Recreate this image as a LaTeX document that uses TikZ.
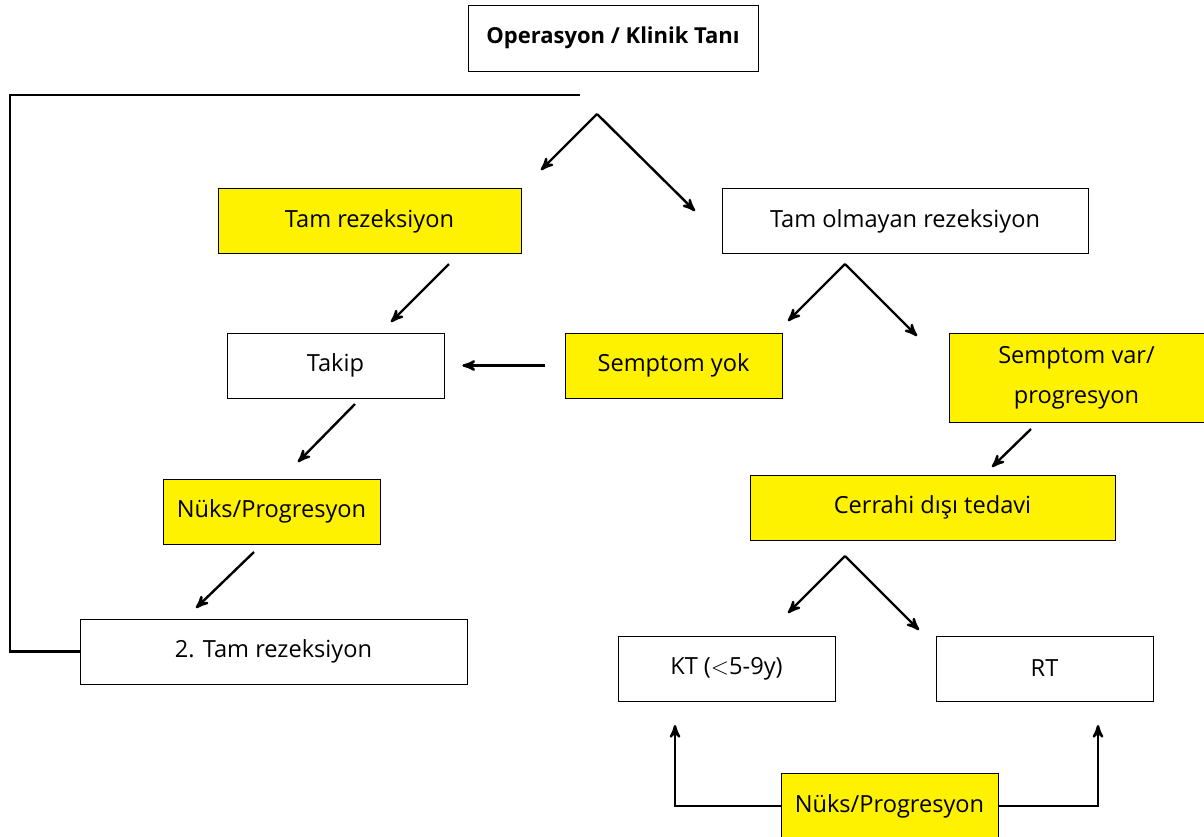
\documentclass[tikz,border=0pt]{standalone}
\usepackage{fontspec}
\setmainfont{Open Sans}
\usepackage{tikz}
\usetikzlibrary{positioning,arrows}
\tikzstyle{wbox}=[draw, rectangle, align=center, inner sep=0pt, minimum height=32.5pt, font=\fontsize{11.8}{20}\selectfont]
\tikzstyle{ybox}=[wbox, fill=yellow]
\tikzstyle{ln}=[line width=1.2pt]

\begin{document}
\begin{tikzpicture}[x=0.5pt, y=-0.5pt, >=stealth']
\useasboundingbox (0,0) rectangle (1204,836);
\node[wbox, minimum width=145pt, minimum height=33pt, font=\fontsize{11}{17}\selectfont\bfseries] (op) at (613,38) {Operasyon / Klinik Tanı};
\node[ybox, minimum width=151.5pt] (tam) at (369.5,221) {Tam rezeksiyon};
\node[wbox, minimum width=183pt] (olm) at (905,221) {Tam olmayan rezeksiyon};
\node[wbox, minimum width=108.5pt] (takip) at (335.5,365.5) {Takip};
\node[ybox, minimum width=108.5pt] (yok) at (673.5,365.5) {Semptom yok};
\node[ybox, minimum width=127.5pt, minimum height=44.5pt] (var) at (1076.5,377.5) {Semptom var/\\progresyon};
\node[ybox, minimum width=108.5pt] (nuks) at (271.5,511.5) {Nüks/Progresyon};
\node[ybox, minimum width=182.5pt] (cer) at (932.5,507.5) {Cerrahi dışı tedavi};
\node[wbox, minimum width=193.5pt] (tam2) at (273.5,651.5) {2. Tam rezeksiyon};
\node[wbox, minimum width=108.5pt] (kt) at (726.5,668.5) {KT ($<$5-9y)};
\node[wbox, minimum width=108.5pt] (rt) at (1044.5,668.5) {RT};
\node[ybox, minimum width=108.5pt, minimum height=33pt] (nuks2) at (889.5,806) {Nüks/Progresyon};

% split points
\coordinate (s1) at (597,114);
\coordinate (s2) at (845,264);
\coordinate (s3) at (845,556);
\coordinate (top) at (580,95);
\coordinate (ktin) at (675,725);
\coordinate (rtin) at (1098,725);

\draw[->, ln] (s1) -- (541,170);
\draw[->, ln] (s1) -- (695,211);
\draw[ln] (top) -- (10,95) |- (tam2.west);
\draw[->, ln] (449,264) -- (391,322);
\draw[->, ln] (s2) -- (788,321);
\draw[->, ln] (s2) -- (917,336);
\draw[->, ln] ([xshift=-10pt]yok.west) -- ([xshift=9pt]takip.east);
\draw[->, ln] (355,404) -- (298,462);
\draw[->, ln] (1031,429) -- (992,467);
\draw[->, ln] (254,552) -- (196,608);
\draw[->, ln] (s3) -- (788,613);
\draw[->, ln] (s3) -- (919,630);
\draw[->, ln] (nuks2.west) -| (ktin);
\draw[->, ln] (nuks2.east) -| (rtin);
\end{tikzpicture}
\end{document}
